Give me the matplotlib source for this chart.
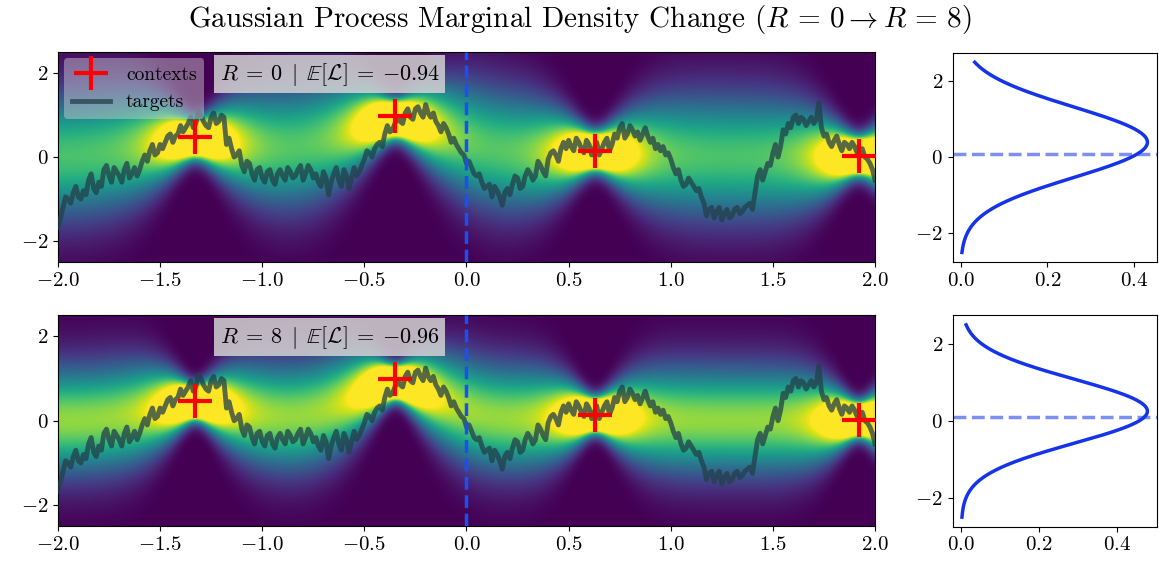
import numpy as np
import matplotlib
matplotlib.use("Agg")
import matplotlib.pyplot as plt

plt.rcParams['font.family'] = 'cmr10'
plt.rcParams['mathtext.fontset'] = 'cm'
plt.rcParams['axes.formatter.use_mathtext'] = True

# observed context points (shared by both runs)
ctx_x = np.array([-1.33, -0.35, 0.63, 1.92])
ctx_y = np.array([0.47, 0.98, 0.14, 0.02])

# noisy target function on a 0.0125 grid over [-2, 2]
target_x = np.linspace(-2.0, 2.0, 321)
target_y = [
    -1.67, -1.45, -1.20, -0.95, -1.00, -1.10, -0.85, -0.70, -0.95, -1.00,
    -0.80, -0.90, -0.55, -0.40, -0.75, -0.85, -0.60, -0.70, -0.30, -0.20,
    -0.45, -0.60, -0.25, -0.35, -0.45, -0.60, -0.30, -0.15, -0.50, -0.40,
    -0.25, -0.45, -0.30, -0.10, 0.05, -0.10, 0.15, 0.30, 0.05, 0.10,
    0.30, 0.20, 0.35, 0.50, 0.55, 0.35, 0.50, 0.55, 0.75, 0.60,
    0.70, 0.80, 0.95, 0.70, 0.80, 1.10, 1.00, 0.85, 0.75, 0.70,
    0.95, 1.05, 0.80, 0.85, 1.00, 0.95, 0.30, 0.45, 0.20, 0.00,
    0.05, 0.15, -0.20, -0.35, -0.10, -0.15, -0.40, -0.55, -0.30, -0.25,
    -0.50, -0.60, -0.35, -0.30, -0.55, -0.65, -0.40, -0.30, -0.45, -0.55,
    -0.25, -0.35, -0.50, -0.45, -0.30, -0.20, -0.55, -0.40, -0.20, -0.30,
    -0.50, -0.40, -0.60, -0.70, -0.35, -0.50, -0.90, -0.60, -0.40, -0.25,
    -0.55, -0.70, -0.30, -0.45, -0.75, -0.50, -0.25, -0.45, -0.35, -0.20,
    -0.05, 0.15, 0.10, 0.00, 0.20, 0.30, 0.35, 0.25, 0.55, 0.75,
    0.60, 0.65, 0.80, 0.95, 0.85, 0.80, 1.05, 1.15, 0.95, 0.90,
    1.15, 1.20, 1.05, 0.95, 1.25, 1.05, 0.95, 1.05, 0.85, 0.75,
    0.60, 0.80, 0.70, 0.55, 0.35, 0.45, 0.30, 0.20, 0.10, 0.05,
    -0.15, -0.10, -0.25, -0.40, -0.45, -0.40, -0.60, -0.75, -0.70, -0.65,
    -0.95, -0.70, -0.80, -0.95, -1.15, -0.85, -0.75, -0.90, -0.65, -0.45,
    -0.50, -0.75, -0.70, -0.45, -0.30, -0.40, -0.55, -0.45, -0.10, -0.20,
    -0.35, -0.45, -0.05, 0.10, 0.15, 0.05, -0.10, 0.20, 0.35, 0.20,
    0.40, 0.25, 0.15, 0.45, 0.35, 0.20, 0.10, 0.40, 0.30, 0.05,
    0.20, 0.35, 0.05, 0.20, 0.35, 0.45, 0.15, 0.30, 0.55, 0.45,
    0.70, 0.80, 0.45, 0.55, 0.75, 0.65, 0.50, 0.60, 0.40, 0.55,
    0.70, 0.50, 0.35, 0.45, 0.20, 0.30, 0.15, 0.25, 0.05, 0.10,
    -0.05, -0.25, -0.40, -0.30, -0.55, -0.70, -0.65, -0.50, -0.60, -0.70,
    -0.80, -0.75, -0.95, -1.10, -1.40, -1.25, -1.20, -1.45, -1.30, -1.20,
    -1.50, -1.35, -1.25, -1.45, -1.40, -1.25, -1.20, -1.35, -1.30, -1.20,
    -1.15, -1.10, -1.25, -0.85, -0.45, -0.30, -0.55, -0.35, -0.15, -0.20,
    0.10, 0.30, 0.00, 0.25, 0.65, 0.55, 0.80, 0.70, 0.95, 1.00,
    0.80, 0.95, 0.90, 0.75, 0.85, 0.95, 0.80, 0.90, 1.30, 0.70,
    0.50, 0.55, 0.35, 0.25, 0.40, 0.50, 0.30, 0.15, 0.35, 0.30,
    0.20, 0.35, 0.25, 0.10, 0.05, 0.20, 0.00, -0.05, -0.15, -0.30,
    -0.55,
]

# per-run settings
R_values = [0, 8]
exp_ll = [-0.94, -0.96]
lengthscales = [0.27, 0.22]
signal_vars = [1.04, 0.75]
noise_vars = [0.09, 0.07]

x_query = 0.0      # location of the marginal shown on the right
y_ref = 0.1        # reference value at x_query


def gp_posterior(xq, xc, yc, ls, sf2, sn2):
    K = sf2 * np.exp(-0.5 * (xc[:, None] - xc[None, :])**2 / ls**2) + sn2 * np.eye(len(xc))
    Ks = sf2 * np.exp(-0.5 * (xq[:, None] - xc[None, :])**2 / ls**2)
    mu = Ks @ np.linalg.solve(K, yc)
    var = sf2 - np.sum(Ks * np.linalg.solve(K, Ks.T).T, axis=1)
    return mu, var


def normal_pdf(y, mu, var):
    return np.exp(-0.5 * (y - mu)**2 / var) / np.sqrt(2 * np.pi * var)


gx = np.linspace(-2, 2, 500)
gy = np.linspace(-2.5, 2.5, 300)

fig = plt.figure(figsize=(11.59, 5.67), dpi=100)
fig.suptitle(r'Gaussian Process Marginal Density Change ($R\,=\,0 \rightarrow R\,=\,8$)',
             fontsize=21, y=0.995)

main_pos = [[0.050, 0.538, 0.705, 0.370], [0.050, 0.072, 0.705, 0.372]]
side_pos = [[0.822, 0.538, 0.176, 0.369], [0.822, 0.071, 0.176, 0.373]]

for i in range(2):
    ax = fig.add_axes(main_pos[i])
    mu, var = gp_posterior(gx, ctx_x, ctx_y, lengthscales[i], signal_vars[i], noise_vars[i])
    dens = normal_pdf(gy[:, None], mu[None, :], var[None, :])
    ax.imshow(dens, origin='lower', extent=[-2, 2, -2.5, 2.5], aspect='auto',
              cmap='viridis', vmin=0, vmax=0.55, interpolation='bilinear')
    ax.plot(ctx_x, ctx_y, '+', color='red', ms=24, mew=3, label='contexts', zorder=4)
    ax.plot(target_x, target_y, color='#22404a', lw=3.5, alpha=0.75,
            label='targets', zorder=3)
    ax.axvline(x_query, color='#1a4ff0', ls='--', lw=2.5, zorder=5)
    ax.set_xlim(-2, 2)
    ax.set_ylim(-2.5, 2.5)
    ax.set_yticks([-2, 0, 2])
    ax.tick_params(labelsize=15)
    ax.text(0.198, 0.96,
            r'$R\:=\:%d\;\mid\;\mathbb{E}[\mathcal{L}]\:=\:{%.2f}$' % (R_values[i], exp_ll[i]),
            transform=ax.transAxes, ha='left', va='top', fontsize=16,
            bbox=dict(boxstyle='square,pad=0.25', facecolor='lightgray',
                      edgecolor='none', alpha=0.85), zorder=6)
    if i == 0:
        ax.legend(loc='upper left', fontsize=14, facecolor='lightgray', framealpha=0.45,
                  edgecolor='none', borderaxespad=0.3, handlelength=2.0)

    # marginal density at the dashed line
    m0, v0 = gp_posterior(np.array([x_query]), ctx_x, ctx_y,
                          lengthscales[i], signal_vars[i], noise_vars[i])
    ys = np.linspace(-2.5, 2.5, 300)
    axr = fig.add_axes(side_pos[i])
    axr.plot(normal_pdf(ys, m0[0], v0[0]), ys, color='#1533e8', lw=2.5)
    axr.axhline(y_ref, color='#1533e8', ls='--', lw=2.5, alpha=0.55)
    axr.set_yticks([-2, 0, 2])
    axr.tick_params(labelsize=15)

plt.savefig('out.png', dpi=100)
